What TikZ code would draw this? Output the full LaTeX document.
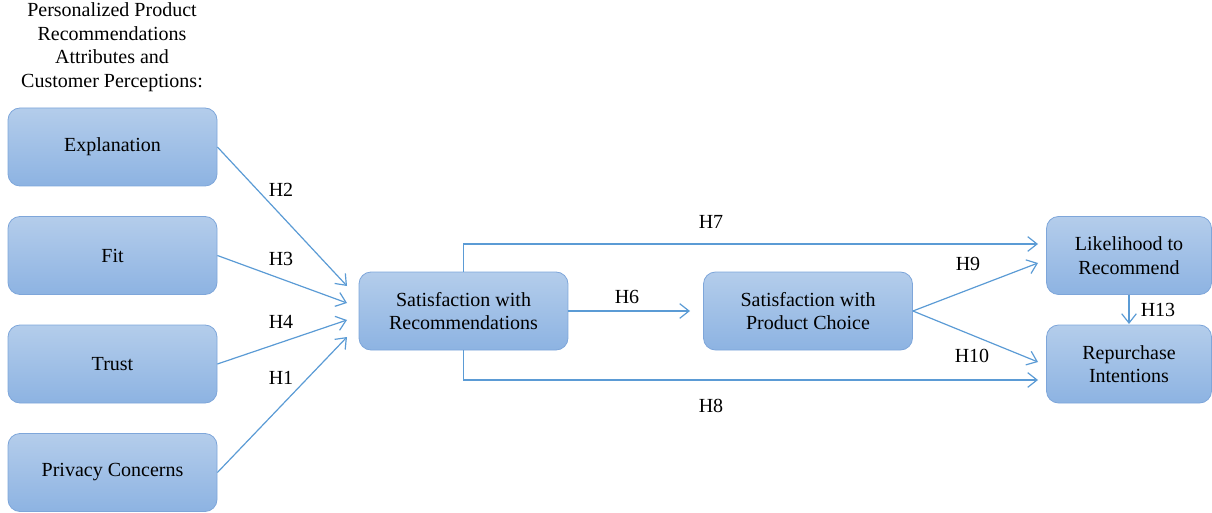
\documentclass[tikz,border=0pt]{standalone}
\usepackage{fontspec}
\setmainfont{Liberation Serif}
\usetikzlibrary{arrows.meta}
\definecolor{boxtop}{HTML}{B4CDEB}
\definecolor{boxbot}{HTML}{8DB3E2}
\definecolor{boxline}{HTML}{7EA6DA}
\definecolor{linkblue}{HTML}{5B9BD5}
\begin{document}
\begin{tikzpicture}[x=0.75pt,y=-0.75pt,
  construct/.style={draw=boxline,line width=0.6pt,rounded corners=9pt,
    top color=boxtop,bottom color=boxbot,align=center,inner sep=0pt,
    minimum width=156.75pt,minimum height=58.5pt,font=\fontsize{15}{17.6}\selectfont},
  link/.style={draw=linkblue,line width=0.9pt,-{Straight Barb[length=7pt,width=11pt]}},
  hyp/.style={font=\fontsize{15}{17.6}\selectfont}]
% frame of the page
\useasboundingbox (0,0) rectangle (1212,513);
\node[hyp,align=center] (title) at (112,47) {Personalized Product\\Recommendations\\Attributes and\\Customer Perceptions:};
\node[construct] (expl) at (112.5,147) {Explanation};
\node[construct] (fit) at (112.5,255.5) {Fit};
\node[construct] (trust) at (112.5,364) {Trust};
\node[construct] (priv) at (112.5,472.5) {Privacy Concerns};
\node[construct] (satrec) at (463.5,311) {Satisfaction with\\Recommendations};
\node[construct] (satprod) at (808,311) {Satisfaction with\\Product Choice};
\node[construct,minimum width=123.75pt] (likely) at (1129,255.5) {Likelihood to\\Recommend};
\node[construct,minimum width=123.75pt] (repur) at (1129,364) {Repurchase\\Intentions};
\coordinate (inH2) at (347,286);
\coordinate (inH3) at (347,303);
\coordinate (inH4) at (347,320);
\coordinate (inH1) at (347,337);
\coordinate (endH7) at (1038,244);
\coordinate (endH8) at (1038,380);
\coordinate (endH6) at (690,311);
\coordinate (endH9) at (1038,263);
\coordinate (endH10) at (1038,362);
\coordinate (endH13) at (1129,324);
\draw[link] (expl.east) -- (inH2);
\draw[link] (fit.east) -- (inH3);
\draw[link] (trust.east) -- (inH4);
\draw[link] (priv.east) -- (inH1);
\draw[link] (satrec.north) |- (endH7);
\draw[link] (satrec.south) |- (endH8);
\draw[link] (satrec.east) -- (endH6);
\draw[link] (satprod.east) -- (endH9);
\draw[link] (satprod.east) -- (endH10);
\draw[link] (likely.south) -- (endH13);
\node[hyp] (h2) at (281,190) {H2};
\node[hyp] (h3) at (281,259) {H3};
\node[hyp] (h4) at (281,322) {H4};
\node[hyp] (h1) at (281,378) {H1};
\node[hyp] (h7) at (711,222) {H7};
\node[hyp] (h8) at (711,406) {H8};
\node[hyp] (h6) at (627,297) {H6};
\node[hyp] (h9) at (968,264) {H9};
\node[hyp] (h10) at (972,356) {H10};
\node[hyp] (h13) at (1158,310) {H13};
\end{tikzpicture}
\end{document}
